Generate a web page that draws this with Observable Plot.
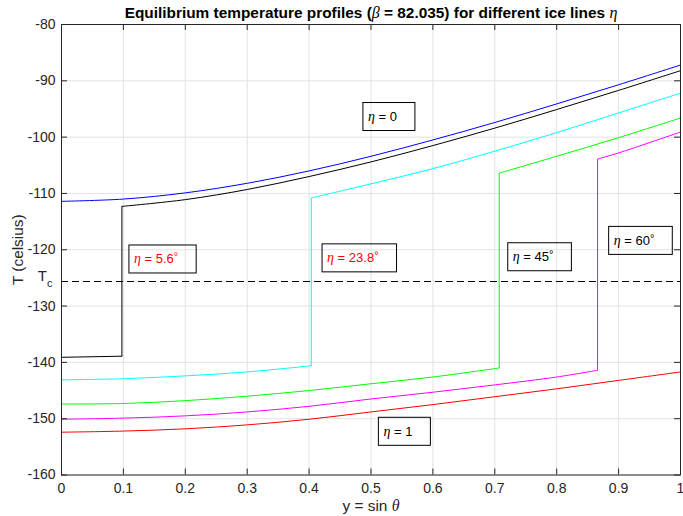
<!DOCTYPE html>
<html>
<head>
<meta charset="utf-8">
<script src="https://cdn.jsdelivr.net/npm/d3@7"></script>
<script src="https://cdn.jsdelivr.net/npm/@observablehq/plot@0.6"></script>
<style>
  html, body { margin: 0; padding: 0; background: #fff; }
  svg { display: block; }
</style>
</head>
<body>
<div id="chart"></div>
<script>
// Sample positions along y = sin(latitude)
const xs = [0, 0.1, 0.2, 0.3, 0.4, 0.5, 0.6, 0.7, 0.8, 0.9, 1];

// Profiles with no jump: η = 0 (blue) and η = 1 (red), one value per xs entry
const tEta0 = [-111.4, -111.0, -109.9, -108.2, -106.0, -103.4, -100.5, -97.4, -94.1, -90.7, -87.2];
const tEta1 = [-152.4, -152.2, -151.8, -151.1, -150.1, -148.8, -147.5, -146.1, -144.7, -143.2, -141.7];

// Intermediate ice lines, in degrees of latitude
const iceDeg = [5.6, 23.8, 45, 60];
const iceColors = ["#000000", "#00ffff", "#00ff00", "#ff00ff"];

// Equatorward branch: values at the first xs entries
const leftT = [
  [-139.1],
  [-143.1, -142.9, -142.4, -141.7],
  [-147.4, -147.3, -146.8, -146.0, -145.0, -143.8, -142.6],
  [-150.1, -149.9, -149.5, -148.8, -147.8, -146.5, -145.3, -144.0, -142.6]
];
// Temperature on each side of the jump at the ice line
const edgeLowT = [-138.9, -140.6, -141.0, -141.4];
const edgeHighT = [-112.3, -110.8, -106.4, -103.9];
// Poleward branch: values at the last xs entries
const rightT = [
  [-111.1, -109.3, -107.0, -104.4, -101.5, -98.4, -95.1, -91.7, -88.2],
  [-108.3, -105.6, -102.5, -99.2, -95.7, -92.2],
  [-103.4, -100.1, -96.6],
  [-102.8, -99.1]
];

// Critical temperature T_c
const tCrit = -125.6;

// Axis ticks
const xTicks = [0, 0.1, 0.2, 0.3, 0.4, 0.5, 0.6, 0.7, 0.8, 0.9, 1];
const yTicks = [-160, -150, -140, -130, -120, -110, -100, -90, -80];

// Boxed labels
const noteText = ["η = 0", ...iceDeg.map(d => `η = ${d}°`), "η = 1"];
const noteX = [0.495, 0.117, 0.429, 0.729, 0.892, 0.520];
const noteT = [-96.4, -121.7, -121.5, -121.3, -118.4, -152.3];
const noteColor = ["#000000", "#ff0000", "#ff0000", "#000000", "#000000", "#000000"];

const titleText = "Equilibrium temperature profiles (β = 82.035) for different ice lines η";

// Assemble line rows and jump segments
const rows = [];
xs.forEach((x, i) => rows.push({seg: "eta0", x, T: tEta0[i], color: "#0000ff"}));
xs.forEach((x, i) => rows.push({seg: "eta1", x, T: tEta1[i], color: "#ff0000"}));
const jumps = [];
iceDeg.forEach((deg, k) => {
  const eta = Math.sin(deg * Math.PI / 180);
  const color = iceColors[k];
  leftT[k].forEach((T, i) => rows.push({seg: `L${k}`, x: xs[i], T, color}));
  rows.push({seg: `L${k}`, x: eta, T: edgeLowT[k], color});
  rows.push({seg: `R${k}`, x: eta, T: edgeHighT[k], color});
  const off = xs.length - rightT[k].length;
  rightT[k].forEach((T, i) => rows.push({seg: `R${k}`, x: xs[off + i], T, color}));
  jumps.push({x: eta, T1: edgeLowT[k], T2: edgeHighT[k], color});
});

const W = 683, H = 516;
const mL = 61, mR = 3, mT = 24, mB = 41.5;
const innerW = W - mL - mR, innerH = H - mT - mB;
const axisColor = "#262626";
const tick = 6;
const labelSize = 15.4;

const chart = Plot.plot({
  width: W,
  height: H,
  marginLeft: mL,
  marginRight: mR,
  marginTop: mT,
  marginBottom: mB,
  x: {domain: [0, 1]},
  y: {domain: [-160, -80]},
  color: {type: "identity"},
  style: {
    fontFamily: "'Liberation Sans', Arial, Helvetica, sans-serif",
    fontSize: "14px",
    background: "#ffffff",
    overflow: "visible"
  },
  marks: [
    Plot.gridX(xTicks, {stroke: "#e3e3e3", strokeOpacity: 1}),
    Plot.gridY(yTicks, {stroke: "#e3e3e3", strokeOpacity: 1}),
    Plot.ruleY([tCrit], {stroke: "#000000", strokeWidth: 1, strokeDasharray: "7,4", shapeRendering: "crispEdges"}),
    Plot.line(rows, {x: "x", y: "T", z: "seg", stroke: "color", strokeWidth: 1, curve: "catmull-rom"}),
    Plot.link(jumps, {x1: "x", x2: "x", y1: "T1", y2: "T2", stroke: "color", strokeWidth: 1}),
    // inward ticks on all four sides
    Plot.tickX(xTicks, {x: d => d, insetTop: innerH - tick, stroke: axisColor}),
    Plot.tickX(xTicks, {x: d => d, insetBottom: innerH - tick, stroke: axisColor}),
    Plot.tickY(yTicks, {y: d => d, insetRight: innerW - tick, stroke: axisColor}),
    Plot.tickY(yTicks, {y: d => d, insetLeft: innerW - tick, stroke: axisColor}),
    Plot.axisX(xTicks, {tickSize: 0, tickPadding: 8, label: null, fill: axisColor, fontSize: 14,
      tickFormat: d => String(+d.toFixed(1))}),
    Plot.axisY(yTicks, {tickSize: 0, tickPadding: 6, label: null, fill: axisColor, fontSize: 14,
      tickFormat: d => String(d)}),
    Plot.frame({stroke: axisColor, strokeWidth: 1}),
    Plot.text(noteText, {x: noteX, y: noteT, text: d => d, fill: noteColor, textAnchor: "start", fontSize: 13}),
    Plot.text(["Tc"], {x: 0, y: tCrit, dx: -9, dy: -5, textAnchor: "end", lineAnchor: "middle", fill: axisColor, fontSize: 15}),
    Plot.text(["T (celsius)"], {frameAnchor: "left", dx: -43, rotate: -90, textAnchor: "middle", lineAnchor: "middle",
      fill: axisColor, fontSize: labelSize}),
    Plot.text(["y = sin θ"], {frameAnchor: "bottom", dy: 31, textAnchor: "middle", lineAnchor: "middle",
      fill: axisColor, fontSize: labelSize}),
    Plot.text([titleText], {frameAnchor: "top", dy: -11.5, textAnchor: "middle", lineAnchor: "middle",
      fontWeight: "bold", fill: "#000000", fontSize: labelSize})
  ]
});

document.getElementById("chart").append(chart);

// Rich text: italic Greek letters, superscripts and subscripts
const SVGNS = "http://www.w3.org/2000/svg";
const greekFont = "'Liberation Serif', 'DejaVu Serif', serif";
function greek(size) {
  return {"font-family": greekFont, "font-style": "italic", "font-weight": "normal", "font-size": `${size}px`};
}
function rich(el, parts) {
  el.textContent = "";
  for (const p of parts) {
    const t = document.createElementNS(SVGNS, "tspan");
    t.textContent = p.text;
    for (const [k, v] of Object.entries(p.attrs || {})) t.setAttribute(k, v);
    el.appendChild(t);
  }
}

for (const el of Array.from(chart.querySelectorAll("text"))) {
  const s = el.textContent;
  if (s === titleText) {
    rich(el, [
      {text: "Equilibrium temperature profiles ("},
      {text: "β", attrs: greek(16)},
      {text: " = 82.035) for different ice lines "},
      {text: "η", attrs: greek(16)}
    ]);
  } else if (s === "y = sin θ") {
    rich(el, [{text: "y = sin "}, {text: "θ", attrs: greek(16)}]);
  } else if (s === "Tc") {
    rich(el, [{text: "T"}, {text: "c", attrs: {dy: "6", "font-size": "11px"}}]);
  } else if (noteText.includes(s)) {
    const bb0 = el.getBBox();
    const cy = bb0.y + bb0.height / 2;
    const rest = s.slice(1);
    const parts = [{text: "η", attrs: greek(14)}];
    if (rest.endsWith("°")) {
      parts.push({text: rest.slice(0, -1)});
      parts.push({text: "°", attrs: {dy: "-3", "font-size": "11px"}});
    } else {
      parts.push({text: rest});
    }
    rich(el, parts);
    const bb = el.getBBox();
    const r = document.createElementNS(SVGNS, "rect");
    const tr = el.getAttribute("transform");
    if (tr) r.setAttribute("transform", tr);
    r.setAttribute("x", bb.x - 5);
    r.setAttribute("y", cy - 14);
    r.setAttribute("width", bb.width + 23);
    r.setAttribute("height", 28);
    r.setAttribute("fill", "none");
    r.setAttribute("stroke", "#000000");
    r.setAttribute("stroke-width", 1);
    el.parentNode.insertBefore(r, el);
  }
}
</script>
</body>
</html>
